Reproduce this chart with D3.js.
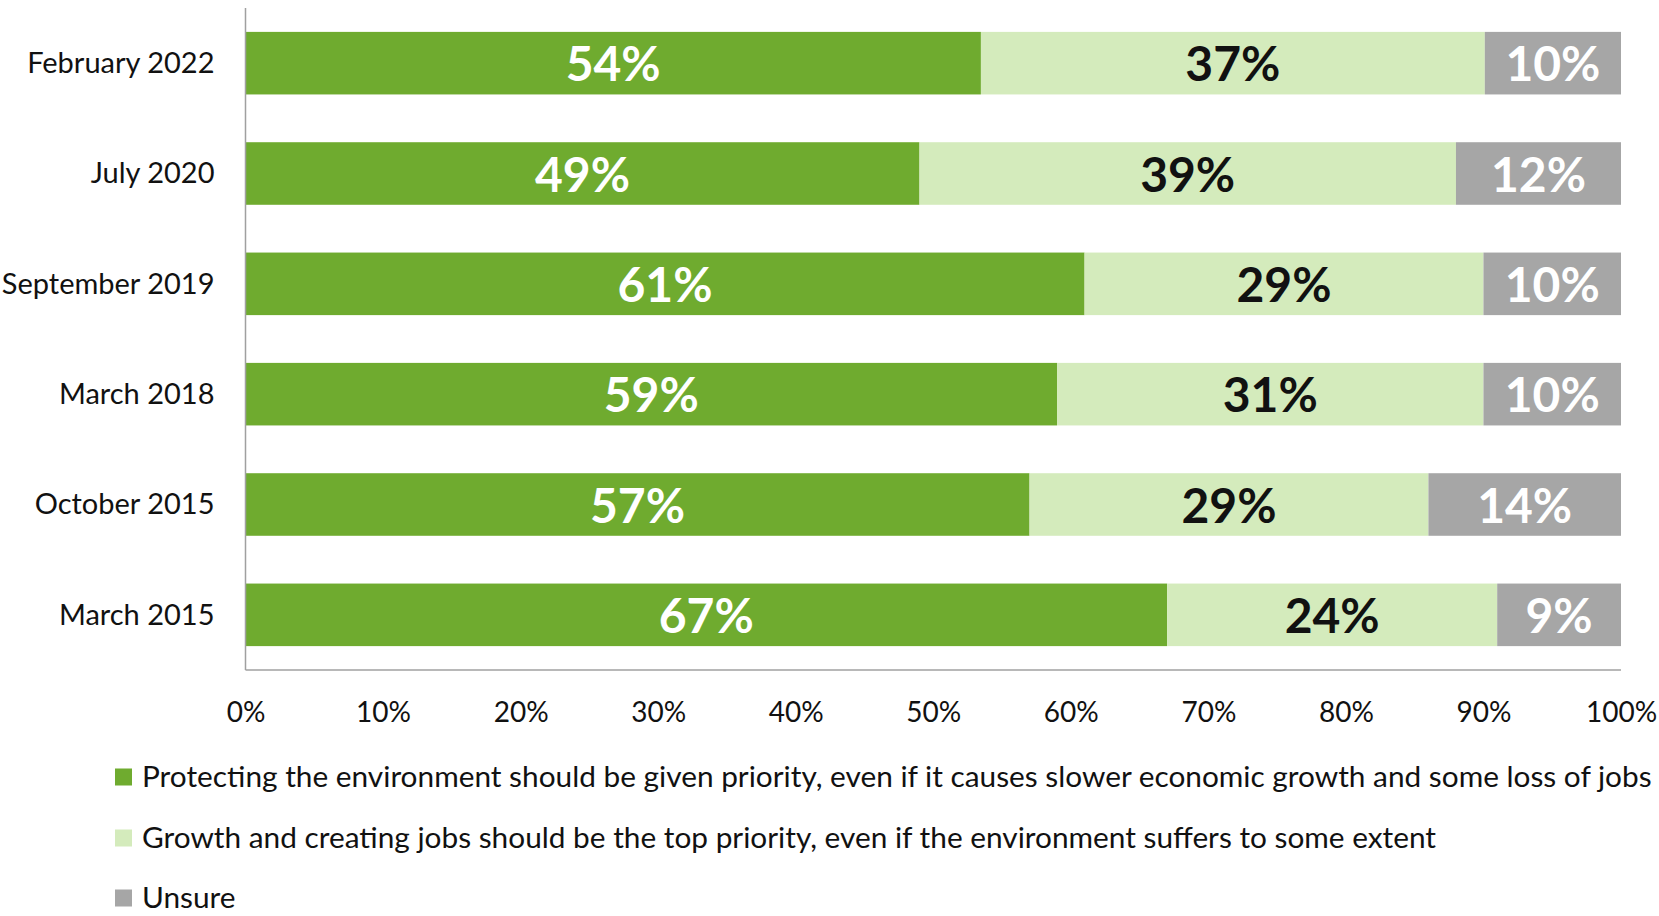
<!DOCTYPE html>
<html><head><meta charset="utf-8">
<script src="https://cdn.jsdelivr.net/npm/d3@7"></script>
<style>
html,body{margin:0;padding:0;background:#fff;overflow:hidden}
svg{display:block;font-family:Lato,"Open Sans",sans-serif}
</style></head>
<body><svg id="chart" width="1659" height="916"></svg>
<script>
const categories = ["February 2022","July 2020","September 2019","March 2018","October 2015","March 2015"];
const protectEnv = [54,49,61,59,57,67];
const growthJobs = [37,39,29,31,29,24];
const unsure = [10,12,10,10,14,9];
const seriesNames = [
  "Protecting the environment should be given priority, even if it causes slower economic growth and some loss of jobs",
  "Growth and creating jobs should be the top priority, even if the environment suffers to some extent",
  "Unsure"
];
const seriesColors = ["#6FAB2F","#D4EBBC","#A6A6A6"];
const labelColors = ["#FFFFFF","#111111","#FFFFFF"];
const xTicks = [0,0.1,0.2,0.3,0.4,0.5,0.6,0.7,0.8,0.9,1];

(function(){
const keys = ["a","b","c"];
const rows = categories.map((c,i)=>({cat:c,a:protectEnv[i],b:growthJobs[i],c:unsure[i]}));
const stacked = d3.stack().keys(keys).offset(d3.stackOffsetExpand)(rows);

const svg = d3.select("#chart");
const pL = 245.5, pR = 1621, pT = 8, pB = 670;
const x = d3.scaleLinear().domain([0,1]).range([pL,pR]);
const y = d3.scaleBand().domain(categories).range([pT,pB]).paddingInner(0.433).paddingOuter(0.2165);

const g = svg.append("g");
stacked.forEach((s,si)=>{
  const sg = g.append("g");
  sg.selectAll("rect").data(s).join("rect")
    .attr("x",d=>x(d[0])).attr("width",d=>x(d[1])-x(d[0]))
    .attr("y",d=>y(d.data.cat)).attr("height",y.bandwidth())
    .attr("fill",seriesColors[si]);
  sg.selectAll("text").data(s).join("text")
    .attr("x",d=>(x(d[0])+x(d[1]))/2)
    .attr("y",d=>y(d.data.cat)+y.bandwidth()/2+1)
    .attr("dy","0.36em")
    .attr("text-anchor","middle")
    .attr("font-weight","bold")
    .attr("font-size",48)
    .attr("fill",labelColors[si])
    .text(d=>d.data[keys[si]]+"%");
});

svg.append("line").attr("x1",pL).attr("x2",pL).attr("y1",pT).attr("y2",pB)
  .attr("stroke","#A0A0A0").attr("stroke-width",1.5);
svg.append("line").attr("x1",pL).attr("x2",pR).attr("y1",pB).attr("y2",pB)
  .attr("stroke","#A0A0A0").attr("stroke-width",1.5);

const xAxis = d3.axisBottom(x).tickValues(xTicks).tickFormat(d3.format(".0%")).tickSize(0).tickPadding(0);
const xa = svg.append("g").attr("transform",`translate(0,${pB})`).call(xAxis);
xa.select(".domain").remove();
xa.selectAll("text").attr("font-size",28).attr("fill","#111").attr("y",43).attr("dy","0.32em").attr("font-family","Lato");

const yAxis = d3.axisLeft(y).tickSize(0).tickPadding(0);
const ya = svg.append("g").attr("transform",`translate(${pL-31},0)`).call(yAxis);
ya.select(".domain").remove();
ya.selectAll("text").attr("font-size",29).attr("fill","#111").attr("dy","0.34em").attr("font-family","Lato");

const legY = [777,838,898];
const lg = svg.append("g");
seriesNames.forEach((n,i)=>{
  lg.append("rect").attr("x",115).attr("y",legY[i]-8.5).attr("width",17).attr("height",17).attr("fill",seriesColors[i]);
  lg.append("text").attr("x",142).attr("y",legY[i]).attr("dy","0.35em")
    .attr("font-size",29.8).attr("fill","#111").text(n);
});
})();
</script></body></html>
